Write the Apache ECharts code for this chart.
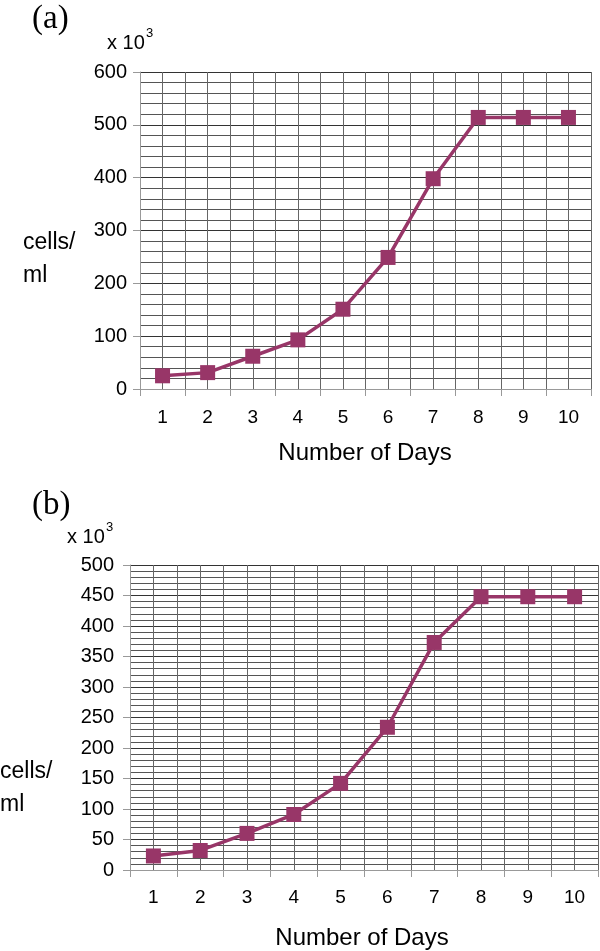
<!DOCTYPE html>
<html><head><meta charset="utf-8">
<script src="https://cdn.jsdelivr.net/npm/echarts@6/dist/echarts.min.js"></script>
<style>html,body{margin:0;padding:0;background:#fff}#c{width:600px;height:951px}</style>
</head><body><div id="c"></div>
<script>
const days = ['1','2','3','4','5','6','7','8','9','10'];
const cellsA = [25, 31, 62, 93, 151, 249, 398, 514, 514, 514];
const cellsB = [23, 32, 60, 91, 142, 234, 373, 448, 448, 448];
const yTicksA = {min: 0, max: 600, interval: 100};
const yTicksB = {min: 0, max: 500, interval: 50};

const FONT = 'Liberation Sans';
const SERIF = 'Liberation Serif';
const purple = '#983668';
const chart = echarts.init(document.getElementById('c'), null, {renderer: 'canvas'});

function catAxis(gi, margin) {
  return {
    type: 'category', gridIndex: gi, data: days, boundaryGap: true,
    axisLine: {lineStyle: {color: '#999', width: 1}},
    axisTick: {show: true, length: 7, inside: false, lineStyle: {color: '#999'}},
    axisLabel: {color: '#000', fontSize: 19, fontFamily: FONT, margin: margin},
    splitLine: {show: false}
  };
}
function gridX(gi) {
  return {
    type: 'value', gridIndex: gi, min: 0.5, max: 10.5, interval: 0.5,
    axisLine: {show: false}, axisTick: {show: false}, axisLabel: {show: false},
    splitLine: {show: true, lineStyle: {color: '#666', width: 1}}
  };
}
function valAxis(gi, t, minorN, margin) {
  return {
    type: 'value', gridIndex: gi, min: t.min, max: t.max, interval: t.interval,
    axisLine: {show: true, lineStyle: {color: '#999'}},
    axisTick: {show: true, length: 7, lineStyle: {color: '#999'}},
    axisLabel: {color: '#000', fontSize: 20, fontFamily: FONT, margin: margin},
    splitLine: {show: true, lineStyle: {color: '#333', width: 1}},
    minorTick: {show: false, splitNumber: minorN},
    minorSplitLine: {show: true, lineStyle: {color: '#555', width: 1}}
  };
}
function txt(x, y, text, size, family, align) {
  return {type: 'text', x: x, y: y, style: {text: text, fontSize: size, fontFamily: family, fill: '#000', align: align || 'left', verticalAlign: 'middle'}};
}

const option = {
  animation: false,
  backgroundColor: '#fff',
  grid: [
    {left: 140, top: 72, width: 451, height: 317, containLabel: false},
    {left: 130, top: 565, width: 468, height: 305, containLabel: false}
  ],
  xAxis: [catAxis(0, 19), catAxis(1, 18), gridX(0), gridX(1)],
  yAxis: [valAxis(0, yTicksA, 5, 13), valAxis(1, yTicksB, 5, 16)],
  graphic: [
    txt(32, 19, '(a)', 33, SERIF),
    txt(32, 505, '(b)', 33, SERIF),
    txt(107, 43, 'x 10', 20, FONT),
    txt(146, 33, '3', 13, FONT),
    txt(67, 537, 'x 10', 20, FONT),
    txt(106, 527, '3', 13, FONT),
    txt(23, 243, 'cells/', 23, FONT),
    txt(23, 276, 'ml', 23, FONT),
    txt(0, 772, 'cells/', 23, FONT),
    txt(0, 805, 'ml', 23, FONT),
    txt(365, 453, 'Number of Days', 24, FONT, 'center'),
    txt(362, 938, 'Number of Days', 24, FONT, 'center')
  ],
  series: [
    {type: 'line', xAxisIndex: 0, yAxisIndex: 0, data: cellsA, symbol: 'rect', symbolSize: 15,
     lineStyle: {color: purple, width: 3.5}, itemStyle: {color: purple}, z: 5},
    {type: 'line', xAxisIndex: 1, yAxisIndex: 1, data: cellsB, symbol: 'rect', symbolSize: 15,
     lineStyle: {color: purple, width: 3.5}, itemStyle: {color: purple}, z: 5}
  ]
};
chart.setOption(option);
</script></body></html>
